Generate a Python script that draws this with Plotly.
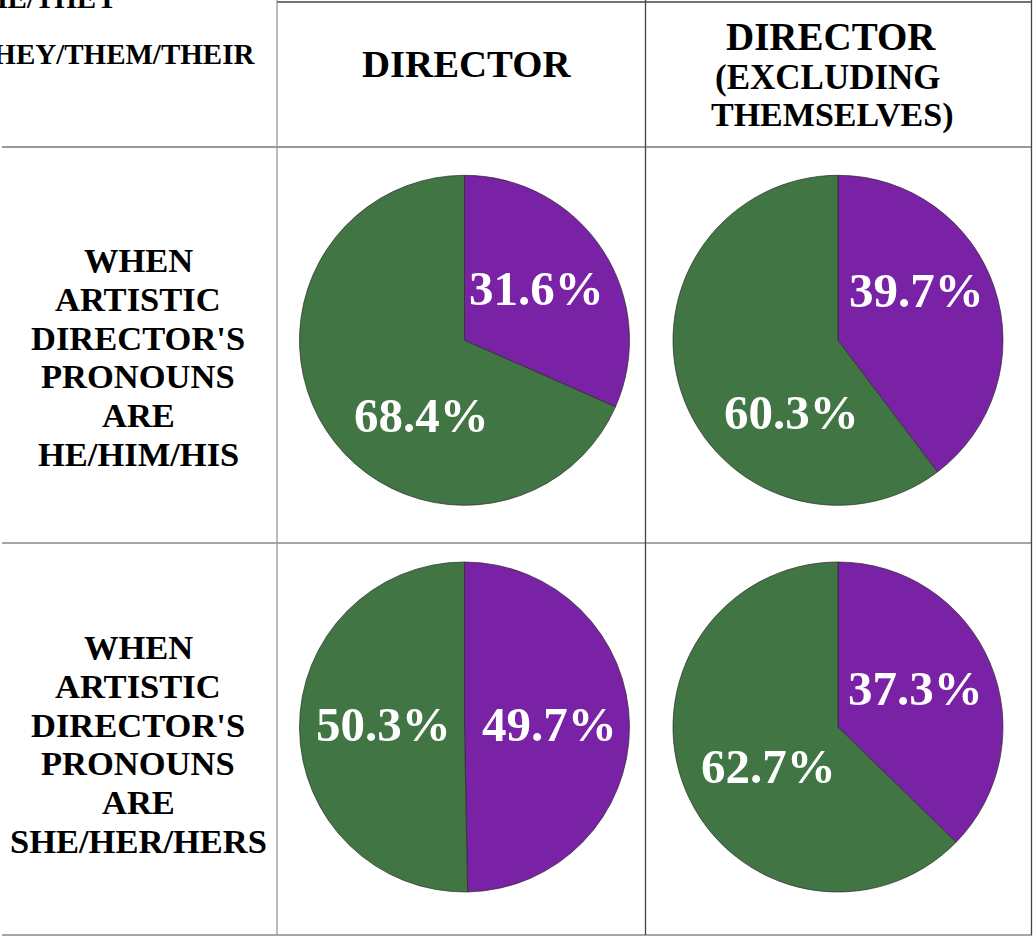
import plotly.graph_objects as go

# ---- data ----
col_headers = ["DIRECTOR", ["DIRECTOR", "(EXCLUDING", "THEMSELVES)"]]
row_labels = [
    ["WHEN", "ARTISTIC", "DIRECTOR'S", "PRONOUNS", "ARE", "HE/HIM/HIS"],
    ["WHEN", "ARTISTIC", "DIRECTOR'S", "PRONOUNS", "ARE", "SHE/HER/HERS"],
]
corner_lines = ["HE/THEY", "THEY/THEM/THEIR"]
slice_names = ["Purple", "Green"]
he_director = [31.6, 68.4]
he_director_excl = [39.7, 60.3]
she_director = [49.7, 50.3]
she_director_excl = [37.3, 62.7]

PURPLE = "#7A22A6"
GREEN = "#417543"
FONT = "Liberation Serif"
W, H = 1033, 937

def px(x):
    return x / W

def py(y):
    return 1 - y / H

fig = go.Figure()

# pie grid geometry (pixels)
col_cx = [464.5, 838]
row_cy = [340.3, 727]
R = 165
pies = [[he_director, he_director_excl], [she_director, she_director_excl]]
# label placement offsets (pixels from pie centre) for [purple, green] labels
label_offsets = [
    [[(72, -52), (-43, 75)], [(78, -50), (-47, 72)]],
    [[(85, -3), (-81, -3)], [(77, -39), (-70, 39)]],
]

annotations = []
for ri, row in enumerate(pies):
    for ci, vals in enumerate(row):
        cx, cy = col_cx[ci], row_cy[ri]
        fig.add_trace(go.Pie(
            labels=slice_names, values=vals, sort=False, direction="clockwise",
            rotation=0,
            marker=dict(colors=[PURPLE, GREEN], line=dict(color="#2a2a2a", width=0.7)),
            textinfo="none",
            domain=dict(x=[px(cx - R), px(cx + R)], y=[py(cy + R), py(cy - R)]),
            hoverinfo="skip", showlegend=False,
        ))
        for v, (dx, dy) in zip(vals, label_offsets[ri][ci]):
            annotations.append(dict(
                x=px(cx + dx), y=py(cy + dy), xref="paper", yref="paper",
                text=f"{v:.1f}%", showarrow=False, xanchor="center", yanchor="middle",
                font=dict(family=FONT, size=49, color="white", weight="bold")))

# table lines
shapes = []
def hline(y, x0, x1, color):
    shapes.append(dict(type="line", xref="paper", yref="paper", x0=px(x0), x1=px(x1),
                       y0=py(y), y1=py(y), line=dict(color=color, width=1.3)))
def vline(x, y0, y1, color):
    shapes.append(dict(type="line", xref="paper", yref="paper", x0=px(x), x1=px(x),
                       y0=py(y0), y1=py(y1), line=dict(color=color, width=1.3)))

hline(2, 277, 1032, "#444444")
hline(147, 2, 1032, "#777777")
hline(543, 2, 1032, "#888888")
hline(935, 2, 1032, "#888888")
vline(277, 0, 935, "#999999")
vline(645.5, 0, 935, "#444444")
vline(1031.5, 0, 935, "#444444")

def text(x, y, s, size, xanchor="center"):
    annotations.append(dict(x=px(x), y=py(y), xref="paper", yref="paper", text=s,
                            showarrow=False, xanchor=xanchor, yanchor="middle",
                            font=dict(family=FONT, size=size, color="black", weight="bold")))

# headers
text(466, 64, col_headers[0], 38.8)
hdr2_y = [36, 77, 115]
hdr2_x = [831, 828, 832]
hdr2_size = [39, 35, 34]
for s, y, x, sz in zip(col_headers[1], hdr2_y, hdr2_x, hdr2_size):
    text(x, y, s, sz)

# corner (clipped at the page edge, as in the source)
text(119, -2, corner_lines[0], 29, xanchor="right")
text(257, 54, corner_lines[1], 29, xanchor="right")

# row labels
line_gap = 38.8
first_y = [260, 647]
for ri, lines in enumerate(row_labels):
    for li, s in enumerate(lines):
        text(138, first_y[ri] + li * line_gap, s, 34.5)

fig.update_layout(
    width=W, height=H, margin=dict(l=0, r=0, t=0, b=0),
    paper_bgcolor="white", plot_bgcolor="white",
    shapes=shapes, annotations=annotations,
)
fig.write_html("out.html", config={"displayModeBar": False},
               post_script="document.body.style.margin='0';document.body.style.overflow='hidden';")
